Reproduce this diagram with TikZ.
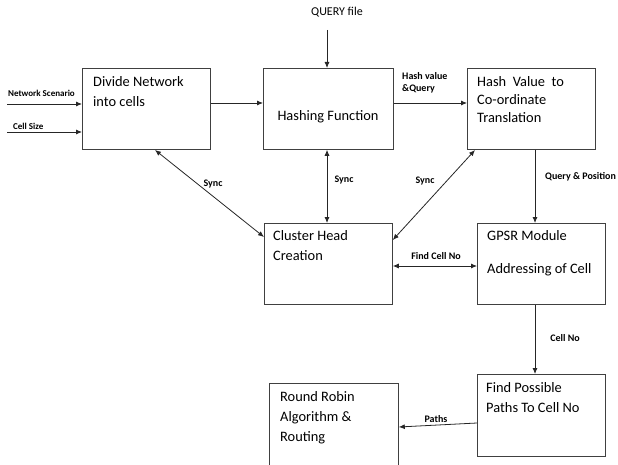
\documentclass[tikz,border=0pt]{standalone}
\usepackage{fontspec}
\setmainfont{Carlito}
\usetikzlibrary{arrows.meta}

\begin{document}
\begin{tikzpicture}[
  x=1pt, y=-1pt,
  >={Latex[length=6pt,width=5pt]},
  box/.style={draw=black!75, line width=0.8pt, anchor=north west, inner sep=0pt,
    minimum width=128pt, minimum height=81pt},
  boxtext/.style={anchor=north west, align=left, inner sep=0pt,
    font=\fontsize{14.4}{20}\selectfont},
  arrow/.style={->, draw=black!85, line width=0.8pt},
  biarrow/.style={<->, draw=black!85, line width=0.8pt},
  tag/.style={font=\fontsize{10}{12}\selectfont\bfseries, inner sep=1pt},
  intag/.style={font=\fontsize{9}{11}\selectfont\bfseries, inner sep=0pt, anchor=west}
]
\useasboundingbox (0,0) rectangle (618,465);

% Upper row.
\node[box] (divide) at (82,68) {};
\node[boxtext] (dividetxt) at (93,76) {Divide Network\\into cells};

\node[box, minimum width=130pt] (hash) at (263,68) {};
\node[boxtext, anchor=center] (hashtxt) at (328,117) {Hashing Function};

\node[box] (coord) at (467,68) {};
\node[boxtext, font=\fontsize{14.4}{18}\selectfont] (coordtxt) at (477,76)
  {Hash\ \ Value\ \ to\\Co-ordinate\\Translation};

% Middle row.
\node[box] (cluster) at (264,223) {};
\node[boxtext] (clustertxt) at (273,230) {Cluster Head\\Creation};

\node[box] (gpsr) at (477,223) {};
\node[boxtext] (gpsrtxt) at (487,230) {GPSR Module\\[13pt]Addressing of Cell};

% Lower row.
\node[box, minimum height=82pt] (paths) at (477,374) {};
\node[boxtext] (pathstxt) at (486,382) {Find Possible\\Paths To Cell No};

\node[box, minimum width=129pt, minimum height=82pt] (robin) at (269,383) {};
\node[boxtext] (robintxt) at (280,391) {Round Robin\\Algorithm \&\\Routing};

% Inputs.
\coordinate (netin) at (7,104);
\coordinate (cellin) at (7,132);
\coordinate (queryin) at (327,30);
\draw[arrow] (netin) -- (netin -| divide.west);
\node[intag] (nettag) at (8,93) {Network Scenario};
\draw[arrow] (cellin) -- (cellin -| divide.west);
\node[intag] (celltag) at (13,126) {Cell Size};
\draw[arrow] (queryin) -- (queryin |- hash.north);
\node[font=\fontsize{12}{14}\selectfont] (querytag) at (337,12) {QUERY file};

% Main flow.
\draw[arrow] (divide.east |- 0,103) -- (hash.west |- 0,103);
\draw[arrow] (hash.east |- 0,103) -- (coord.west |- 0,103);
\node[tag, anchor=west, align=left] (hashvaltag) at (401,83) {Hash value\\\&Query};
\draw[arrow] (coord.south -| 535,0) -- (gpsr.north -| 535,0);
\node[tag, anchor=west] (postag) at (544,177) {Query \& Position};
\draw[arrow] (gpsr.south -| 535,0) -- (paths.north -| 535,0);
\node[tag] (cellnotag) at (565,338) {Cell No};
\draw[arrow] (paths.west |- 0,423) -- (robin.east |- 0,427);
\node[tag] (pathtag) at (436,419) {Paths};

% Sync links.
\draw[biarrow] (155,150) -- (cluster.west |- 0,237);
\node[tag] (synctag1) at (213,184) {Sync};
\draw[biarrow] (hash.south -| 327,0) -- (cluster.north -| 327,0);
\node[tag] (synctag2) at (344,180) {Sync};
\draw[biarrow] (475,150) -- (cluster.east |- 0,240);
\node[tag] (synctag3) at (425,181) {Sync};
\draw[biarrow] (cluster.east |- 0,266) -- (gpsr.west |- 0,266);
\node[tag] (findtag) at (436,256) {Find Cell No};

\end{tikzpicture}
\end{document}
